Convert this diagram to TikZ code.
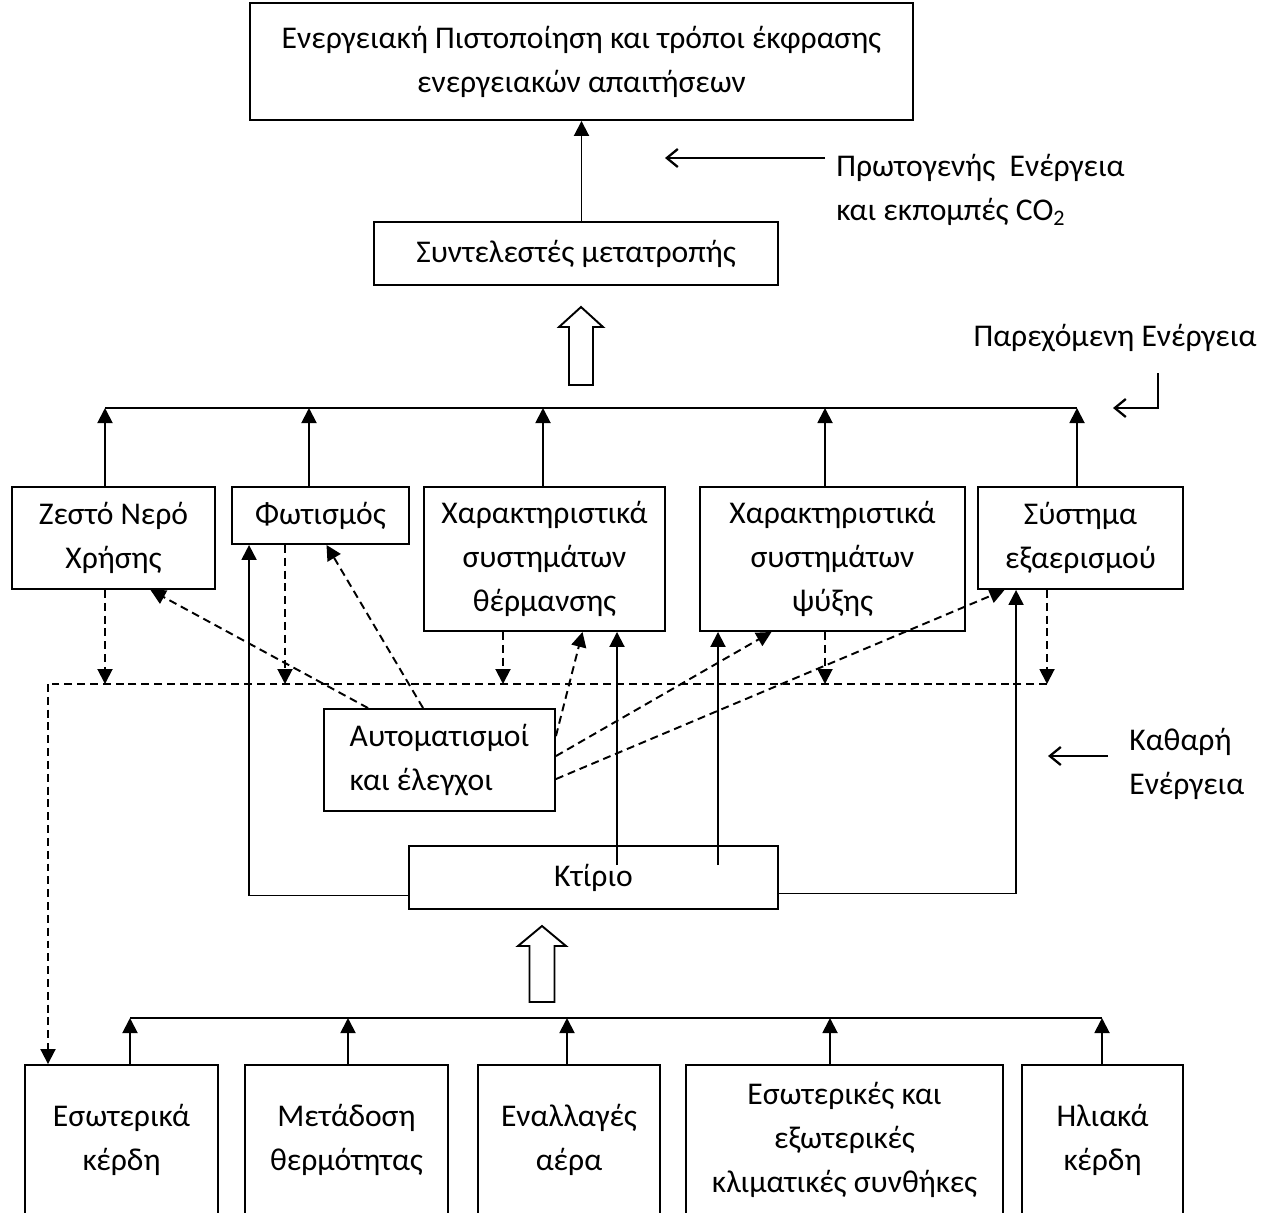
\documentclass[tikz,border=0pt]{standalone}
\usepackage{fontspec}
\setmainfont{Carlito}
\usetikzlibrary{arrows.meta,calc}

\tikzset{
  box/.style={draw, line width=1.1pt, align=center, inner sep=0pt, font=\fontsize{18}{25}\selectfont},
  txt/.style={align=left, inner sep=0pt, font=\fontsize{18}{25}\selectfont},
  arr/.style={line width=1.1pt, -{Triangle[length=0.3cm,width=0.3cm]}},
  darr/.style={arr, dash pattern=on 4.5pt off 2.8pt},
  dline/.style={line width=1.1pt, dash pattern=on 4.5pt off 2.8pt},
  barb/.style={line width=1.3pt, -{Straight Barb[length=0.22cm,width=0.36cm]}}
}

\begin{document}
\begin{tikzpicture}[x=0.02cm, y=-0.02cm]
    \useasboundingbox (0,0) rectangle (1261,1218);
    \clip (0,0) rectangle (1261,1212);

    % Top
    \node[box, minimum width=13.26cm, minimum height=2.34cm] (cert) at (581.5,61.5) {Ενεργειακή Πιστοποίηση και τρόποι έκφρασης\\ενεργειακών απαιτήσεων};
    \node[box, minimum width=8.08cm, minimum height=1.26cm] (conv) at (576,253.5) {Συντελεστές μετατροπής};
    \node[txt, anchor=west] (prim) at (836,190) {Πρωτογενής\ \ Ενέργεια\\και εκπομπές CO\textsubscript{2}};
    \node[txt] (deliv) at (1115,338) {Παρεχόμενη Ενέργεια};

    % Systems row
    \node[box, minimum width=4.06cm, minimum height=2.04cm] (dhw) at (113.5,538) {Ζεστό Νερό\\Χρήσης};
    \node[box, minimum width=3.54cm, minimum height=1.14cm] (light) at (320.5,515.5) {Φωτισμός};
    \node[box, minimum width=4.82cm, minimum height=2.88cm] (heat) at (544.5,559) {Χαρακτηριστικά\\συστημάτων\\θέρμανσης};
    \node[box, minimum width=5.30cm, minimum height=2.88cm] (cool) at (832.5,559) {Χαρακτηριστικά\\συστημάτων\\ψύξης};
    \node[box, minimum width=4.10cm, minimum height=2.04cm] (vent) at (1080.5,538) {Σύστημα\\εξαερισμού};

    % Middle
    \node[box, align=left, minimum width=4.62cm, minimum height=2.04cm] (auto) at (439.5,760) {Αυτοματισμοί\\και έλεγχοι};
    \node[txt, anchor=west] (net) at (1129,764) {Καθαρή\\Ενέργεια};
    \node[box, minimum width=7.38cm, minimum height=1.26cm] (bldg) at (593.5,877.5) {Κτίριο};

    % Bottom row
    \node[box, minimum width=3.86cm, minimum height=3cm] (gains) at (121.5,1140) {Εσωτερικά\\κέρδη};
    \node[box, minimum width=4.06cm, minimum height=3cm] (trans) at (346.5,1140) {Μετάδοση\\θερμότητας};
    \node[box, minimum width=3.64cm, minimum height=3cm] (air) at (569,1140) {Εναλλαγές\\αέρα};
    \node[box, minimum width=6.34cm, minimum height=3cm] (clim) at (844.5,1140) {Εσωτερικές και\\εξωτερικές\\κλιματικές συνθήκες};
    \node[box, minimum width=3.22cm, minimum height=3cm] (solar) at (1102.5,1140) {Ηλιακά\\κέρδη};

    % Bus points
    \coordinate (t1) at (105,408);
    \coordinate (t2) at (309,408);
    \coordinate (t3) at (543,408);
    \coordinate (t4) at (825,408);
    \coordinate (t5) at (1077,408);
    \coordinate (d1) at (105,684);
    \coordinate (d2) at (285,684);
    \coordinate (d3) at (503,684);
    \coordinate (d4) at (825,684);
    \coordinate (d5) at (1047,684);
    \coordinate (dL) at (48,684);
    \coordinate (b1) at (130,1018);
    \coordinate (b2) at (348,1018);
    \coordinate (b3) at (567,1018);
    \coordinate (b4) at (830,1018);
    \coordinate (b5) at (1102,1018);

    % Edges
    \draw[arr] (conv.north -| cert.south) -- (cert.south);
    \draw[line width=1.1pt] (t1) -- (t5);
    \draw[arr] (t1 |- dhw.north) -- (t1);
    \draw[arr] (t2 |- light.north) -- (t2);
    \draw[arr] (t3 |- heat.north) -- (t3);
    \draw[arr] (t4 |- cool.north) -- (t4);
    \draw[arr] (t5 |- vent.north) -- (t5);

    \draw[line width=1.1pt] (b1) -- (b5);
    \draw[arr] (b1 |- gains.north) -- (b1);
    \draw[arr] (b2 |- trans.north) -- (b2);
    \draw[arr] (b3 |- air.north) -- (b3);
    \draw[arr] (b4 |- clim.north) -- (b4);
    \draw[arr] (b5 |- solar.north) -- (b5);

    % Dashed
    \draw[dline] (d5) -- (dL);
    \draw[darr] (dL) -- (dL |- gains.north);
    \draw[darr] (d1 |- dhw.south) -- (d1);
    \draw[darr] (d2 |- light.south) -- (d2);
    \draw[darr] (d3 |- heat.south) -- (d3);
    \draw[darr] (d4 |- cool.south) -- (d4);
    \draw[darr] (d5 |- vent.south) -- (d5);
    \draw[darr] ($(auto.north west)+(45,0)$) -- ($(dhw.south)+(37,0)$);
    \draw[darr] ($(auto.north west)+(100,0)$) -- ($(light.south)+(6,0)$);
    \draw[darr] ($(auto.north east)+(0,28)$) -- ($(heat.south)+(38,0)$);
    \draw[darr] ($(auto.north east)+(0,48)$) -- ($(cool.south)+(-61,0)$);
    \draw[darr] ($(auto.north east)+(0,71)$) -- ($(vent.south)+(-76,0)$);

    % Building feeds
    \draw[arr] ($(bldg.west)+(0,18)$) -| ($(light.south west)+(18,0)$);
    \draw[arr] ($(bldg.east)+(0,16)$) -| ($(vent.south west)+(39,0)$);
    \draw[arr] ($(bldg.north)+(23.5,20)$) coordinate (h0) -- (h0 |- heat.south);
    \draw[arr] ($(bldg.north)+(124.5,20)$) coordinate (c0) -- (c0 |- cool.south);

    % Label arrows
    \coordinate (p0) at (825,158);
    \coordinate (p1) at (665,158);
    \draw[barb] (p0) -- (p1);
    \coordinate (q0) at (1158,373);
    \coordinate (q1) at (1113,408);
    \draw[barb] (q0) |- (q1);
    \coordinate (n0) at (1108,756);
    \coordinate (n1) at (1048,756);
    \draw[barb] (n0) -- (n1);

    % Hollow arrows
    \draw[line width=1.1pt] (581,307) -- ++(22,20) -- ++(-10,0) -- ++(0,58) -- ++(-24,0) -- ++(0,-58) -- ++(-10,0) -- cycle;
    \draw[line width=1.1pt] (542,926) -- ++(24,20) -- ++(-11.5,0) -- ++(0,56) -- ++(-25,0) -- ++(0,-56) -- ++(-11.5,0) -- cycle;

\end{tikzpicture}
\end{document}
